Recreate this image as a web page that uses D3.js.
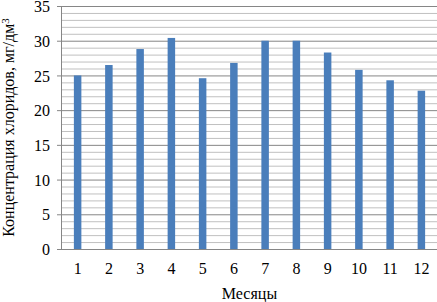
<!DOCTYPE html>
<html>
<head>
<meta charset="utf-8">
<script src="https://cdn.jsdelivr.net/npm/d3@7"></script>
<style>
  body { margin: 0; background: #fff; }
  text { font-family: "Liberation Serif", "Times New Roman", serif; fill: #000; }
</style>
</head>
<body>
<div id="chart"></div>
<script>
// chart size
var width = 437;
var height = 302;
var margin = { top: 6, right: 0, bottom: 53, left: 62 };

// data
var months = ['1', '2', '3', '4', '5', '6', '7', '8', '9', '10', '11', '12'];
var chlorides = [25.0, 26.5, 28.8, 30.4, 24.6, 26.8, 30.0, 30.0, 28.3, 25.8, 24.3, 22.8];
var yTicks = [0, 5, 10, 15, 20, 25, 30, 35];

var svg = d3.select('#chart')
  .append('svg')
  .attr('width', width)
  .attr('height', height);

var x = d3.scaleBand()
  .domain(months)
  .range([margin.left, width - margin.right])
  .paddingInner(0.76)
  .paddingOuter(0.38);

var y = d3.scaleLinear()
  .domain([0, 35])
  .range([height - margin.bottom, margin.top]);

// minor gridlines every 1
svg.append('g')
  .selectAll('line')
  .data(d3.range(0, 36).filter(function(d) { return d % 5 !== 0; }))
  .enter().append('line')
  .attr('x1', margin.left)
  .attr('x2', width - margin.right)
  .attr('y1', function(d) { return y(d) + 0.5; })
  .attr('y2', function(d) { return y(d) + 0.5; })
  .attr('stroke', '#c0c0c0')
  .attr('stroke-width', 1);

// major gridlines
svg.append('g')
  .selectAll('line')
  .data(yTicks)
  .enter().append('line')
  .attr('x1', margin.left - 5)
  .attr('x2', width - margin.right)
  .attr('y1', function(d) { return y(d) + 0.5; })
  .attr('y2', function(d) { return y(d) + 0.5; })
  .attr('stroke', '#868686')
  .attr('stroke-width', 1);

// y axis line
svg.append('line')
  .attr('x1', margin.left - 0.5)
  .attr('x2', margin.left - 0.5)
  .attr('y1', y(35))
  .attr('y2', y(0))
  .attr('stroke', '#868686');

// bars
svg.append('g')
  .selectAll('rect')
  .data(chlorides)
  .enter().append('rect')
  .attr('x', function(d, i) { return x(months[i]); })
  .attr('width', x.bandwidth())
  .attr('y', function(d) { return y(d); })
  .attr('height', function(d) { return y(0) - y(d); })
  .attr('fill', '#4a7ebb');

// y tick labels
svg.append('g')
  .selectAll('text')
  .data(yTicks)
  .enter().append('text')
  .attr('x', margin.left - 12)
  .attr('y', function(d) { return y(d); })
  .attr('dy', '0.38em')
  .attr('text-anchor', 'end')
  .style('font-size', '16px')
  .text(function(d) { return d; });

// x tick labels
svg.append('g')
  .selectAll('text')
  .data(months)
  .enter().append('text')
  .attr('x', function(d) { return x(d) + x.bandwidth() / 2; })
  .attr('y', y(0) + 25)
  .attr('text-anchor', 'middle')
  .style('font-size', '16px')
  .text(function(d) { return d; });

// axis titles
svg.append('text')
  .attr('x', margin.left + (width - margin.right - margin.left) / 2)
  .attr('y', 299)
  .attr('text-anchor', 'middle')
  .style('font-size', '16px')
  .text('Месяцы');

svg.append('text')
  .attr('transform', 'translate(14,' + (y(0) + y(35)) / 2 + ') rotate(-90)')
  .attr('text-anchor', 'middle')
  .style('font-size', '16px')
  .text('Концентрация хлоридов, мг/дм')
  .append('tspan')
  .attr('dy', '-0.45em')
  .style('font-size', '11px')
  .text('3');
</script>
</body>
</html>
